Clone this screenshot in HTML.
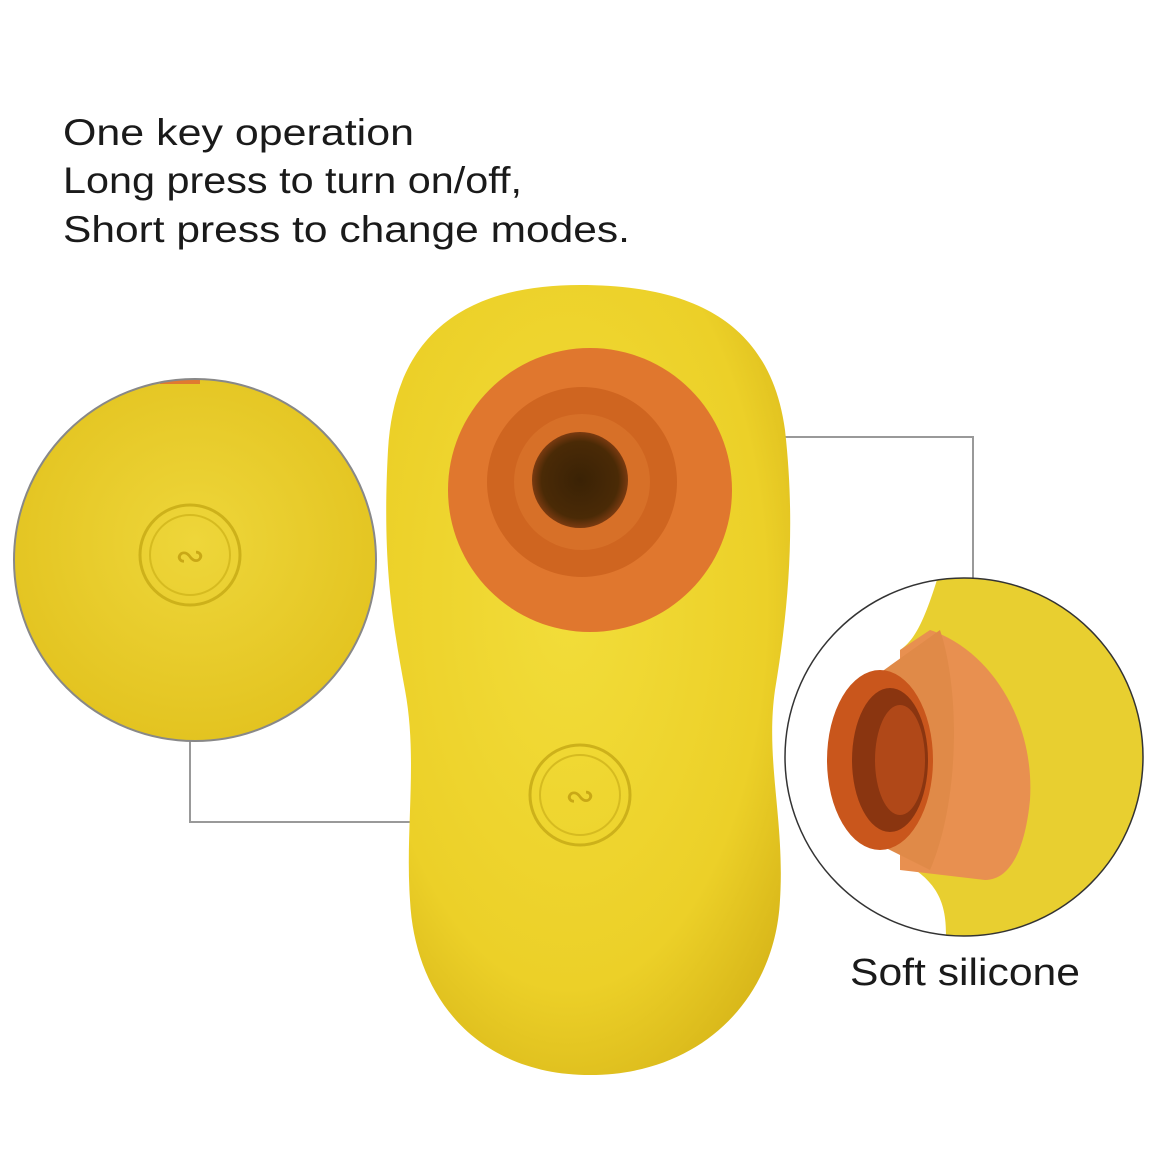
<!DOCTYPE html>
<html><head><meta charset="utf-8"><style>
html,body{margin:0;padding:0;background:#fff;width:1160px;height:1160px;overflow:hidden}
svg{display:block}
</style></head><body>
<svg width="1160" height="1160" viewBox="0 0 1160 1160" xmlns="http://www.w3.org/2000/svg">
<defs>
<radialGradient id="yb" cx="0.45" cy="0.4" r="0.7">
<stop offset="0" stop-color="#f2dd3a"/><stop offset="0.7" stop-color="#ecd028"/><stop offset="1" stop-color="#d6b418"/>
</radialGradient>
<radialGradient id="yl" cx="0.5" cy="0.45" r="0.6">
<stop offset="0" stop-color="#eed63a"/><stop offset="1" stop-color="#e2c21e"/>
</radialGradient>
<radialGradient id="hole" cx="0.5" cy="0.5" r="0.5">
<stop offset="0" stop-color="#3a2205"/><stop offset="0.8" stop-color="#4a2a06"/><stop offset="1" stop-color="#7a3a10"/>
</radialGradient>
<clipPath id="cr"><circle cx="964" cy="757" r="179"/></clipPath>
<clipPath id="cl"><circle cx="195" cy="560" r="181"/></clipPath>
</defs>
<g font-family="Liberation Sans, sans-serif" font-size="37" fill="#1a1a1a">
<text x="63" y="145" textLength="351" lengthAdjust="spacingAndGlyphs">One key operation</text>
<text x="63" y="193" textLength="459" lengthAdjust="spacingAndGlyphs">Long press to  turn on/off,</text>
<text x="63" y="242" textLength="567" lengthAdjust="spacingAndGlyphs">Short press to change modes.</text>
</g>

<polyline points="620,437 973,437 973,578" fill="none" stroke="#999" stroke-width="2"/>
<polyline points="190,740 190,822 545,822" fill="none" stroke="#999" stroke-width="2"/>

<path d="M580,285 C470,285 395,330 388,450 C382,560 392,620 405,690 C418,760 405,830 410,900 C415,1000 480,1075 590,1075 C700,1075 775,1000 780,900 C785,820 765,760 775,690 C790,600 795,520 785,430 C770,320 690,285 580,285 Z" fill="url(#yb)"/>
<circle cx="590" cy="490" r="142" fill="#e0772e"/>
<circle cx="582" cy="482" r="95" fill="#cf6520"/>
<circle cx="582" cy="482" r="68" fill="#d77028"/>
<circle cx="580" cy="480" r="48" fill="url(#hole)"/>
<circle cx="580" cy="795" r="50" fill="none" stroke="#cdb11a" stroke-width="3"/>
<circle cx="580" cy="795" r="40" fill="none" stroke="#d6bb20" stroke-width="2"/>
<text x="580" y="808" text-anchor="middle" font-family="DejaVu Sans, sans-serif" font-size="36" fill="#c9a816">∾</text>

<circle cx="195" cy="560" r="181" fill="url(#yl)"/>
<g clip-path="url(#cl)"><rect x="160" y="378" width="40" height="6" fill="#e07a30"/></g>
<circle cx="195" cy="560" r="181" fill="none" stroke="#888" stroke-width="2"/>
<circle cx="190" cy="555" r="50" fill="none" stroke="#cdb11a" stroke-width="3"/>
<circle cx="190" cy="555" r="40" fill="none" stroke="#d6bb20" stroke-width="2"/>
<text x="190" y="568" text-anchor="middle" font-family="DejaVu Sans, sans-serif" font-size="36" fill="#c9a816">∾</text>

<g clip-path="url(#cr)">
<rect x="780" y="570" width="380" height="380" fill="#fff"/>
<path d="M940,570 C925,620 915,640 900,650 L900,860 C935,880 950,900 945,950 L1160,950 L1160,570 Z" fill="#e8cf30"/>
<path d="M930,630 C990,650 1035,720 1030,800 C1025,850 1010,880 985,880 L900,870 L900,650 Z" fill="#e89050"/>
<path d="M870,680 L940,630 C960,690 960,800 930,870 L870,840 Z" fill="#e08a48"/>
<ellipse cx="880" cy="760" rx="53" ry="90" fill="#c9561c"/>
<ellipse cx="890" cy="760" rx="38" ry="72" fill="#8a3510"/>
<ellipse cx="900" cy="760" rx="25" ry="55" fill="#b04818"/>
</g>
<circle cx="964" cy="757" r="179" fill="none" stroke="#333" stroke-width="1.5"/>

<text x="850" y="985" font-family="Liberation Sans, sans-serif" font-size="38" fill="#1a1a1a" textLength="230" lengthAdjust="spacingAndGlyphs">Soft silicone</text>
</svg>
</body></html>
